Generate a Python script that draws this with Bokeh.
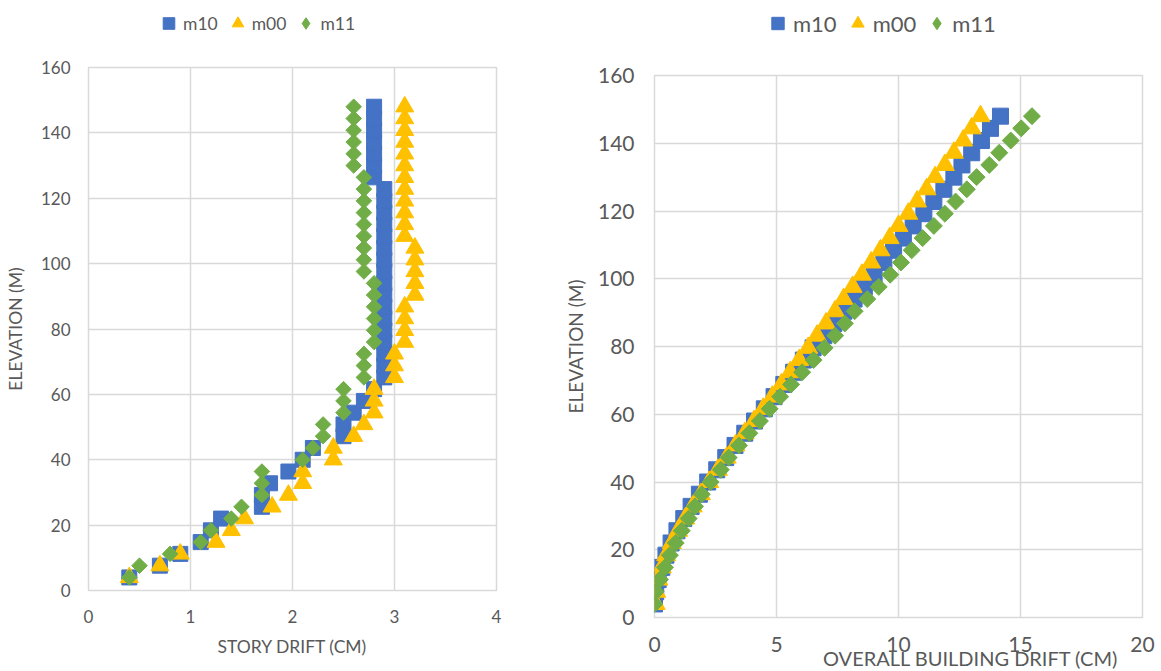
import math
from bokeh.plotting import figure
from bokeh.models import Range1d, Legend, LegendItem, FixedTicker, Title
from bokeh.layouts import row, column
from bokeh.embed import file_html
from bokeh.resources import INLINE

# ---------------- data ----------------
elevation = [4, 7.6, 11.2, 14.8, 18.4, 22, 25.6, 29.2, 32.8, 36.4,
             40, 43.6, 47.2, 50.8, 54.4, 58, 61.6, 65.2, 68.8, 72.4,
             76, 79.6, 83.2, 86.8, 90.4, 94, 97.6, 101.2, 104.8, 108.4,
             112, 115.6, 119.2, 122.8, 126.4, 130, 133.6, 137.2, 140.8, 144.4, 148]

story_m10 = [0.4, 0.7, 0.9, 1.1, 1.2, 1.3, 1.7, 1.7, 1.78, 1.96,
             2.1, 2.2, 2.5, 2.5, 2.6, 2.7, 2.8, 2.9, 2.9, 2.9,
             2.9, 2.9, 2.9, 2.9, 2.9, 2.9, 2.9, 2.9, 2.9, 2.9,
             2.9, 2.9, 2.9, 2.9, 2.8, 2.8, 2.8, 2.8, 2.8, 2.8, 2.8]
story_m00 = [0.4, 0.7, 0.9, 1.25, 1.4, 1.53, 1.8, 1.96, 2.1, 2.1,
             2.4, 2.4, 2.6, 2.7, 2.8, 2.8, 2.8, 3.0, 3.0, 3.0,
             3.1, 3.1, 3.1, 3.1, 3.2, 3.2, 3.2, 3.2, 3.2, 3.1,
             3.1, 3.1, 3.1, 3.1, 3.1, 3.1, 3.1, 3.1, 3.1, 3.1, 3.1]
story_m11 = [0.4, 0.5, 0.8, 1.1, 1.2, 1.4, 1.5, 1.7, 1.7, 1.7,
             2.1, 2.2, 2.3, 2.3, 2.5, 2.5, 2.5, 2.7, 2.7, 2.7,
             2.8, 2.8, 2.8, 2.8, 2.8, 2.8, 2.7, 2.7, 2.7, 2.7,
             2.7, 2.7, 2.7, 2.7, 2.7, 2.6, 2.6, 2.6, 2.6, 2.6, 2.6]

overall_m10 = [0.0, 0.05, 0.15, 0.3, 0.47, 0.68, 0.92, 1.2, 1.5, 1.84,
               2.18, 2.55, 2.92, 3.3, 3.7, 4.1, 4.5, 4.9, 5.3, 5.7,
               6.1, 6.5, 6.94, 7.35, 7.76, 8.18, 8.6, 9.0, 9.4, 9.8,
               10.2, 10.6, 11.04, 11.45, 11.86, 12.27, 12.6, 13.0, 13.4, 13.77, 14.18]
overall_m00 = [0.05, 0.07, 0.16, 0.3, 0.48, 0.71, 0.97, 1.26, 1.57, 1.9,
               2.24, 2.6, 2.96, 3.32, 3.7, 4.08, 4.45, 4.83, 5.2, 5.56,
               5.93, 6.3, 6.66, 7.03, 7.4, 7.75, 8.12, 8.5, 8.88, 9.26,
               9.64, 10.0, 10.4, 10.76, 11.15, 11.5, 11.9, 12.27, 12.65, 13.0, 13.36]
overall_m11 = [0.0, 0.05, 0.22, 0.43, 0.63, 0.87, 1.12, 1.4, 1.66, 1.94,
               2.3, 2.72, 3.04, 3.46, 3.89, 4.32, 4.72, 5.15, 5.6, 6.05,
               6.52, 6.97, 7.4, 7.8, 8.2, 8.72, 9.19, 9.66, 10.1, 10.54,
               10.99, 11.45, 11.9, 12.34, 12.8, 13.2, 13.72, 14.13, 14.6, 15.03, 15.47]

series_names = ["m10", "m00", "m11"]
x_ticks_left = [0, 1, 2, 3, 4]
x_ticks_right = [0, 5, 10, 15, 20]
y_ticks = [0, 20, 40, 60, 80, 100, 120, 140, 160]

C_M10 = "#4472C4"
C_M00 = "#FFC000"
C_M11 = "#70AD47"
TXT = "#595959"
GRID = "#D9D9D9"
FONT = "Lato"


def style(p, tick_fs, title_fs):
    p.xaxis.axis_line_color = None
    p.yaxis.axis_line_color = None
    for ax in (p.xaxis, p.yaxis):
        ax.major_tick_line_color = None
        ax.minor_tick_line_color = None
        ax.major_tick_out = 0
        ax.major_tick_in = 0
        ax.minor_tick_out = 0
        ax.minor_tick_in = 0
        ax.major_label_text_color = TXT
        ax.major_label_text_font = FONT
        ax.major_label_text_font_size = tick_fs
        ax.axis_label_text_color = TXT
        ax.axis_label_text_font = FONT
        ax.axis_label_text_font_size = title_fs
        ax.axis_label_text_font_style = "normal"
    p.xgrid.grid_line_color = GRID
    p.ygrid.grid_line_color = GRID
    p.xgrid.grid_line_width = 1.5
    p.ygrid.grid_line_width = 1.5
    p.outline_line_color = GRID
    p.outline_line_width = 1.5
    p.background_fill_color = "white"
    p.border_fill_color = "white"


def add_series(p, xs_list, sq, tri, dia):
    p.scatter(xs_list[0], elevation, marker="square", size=sq,
              fill_color=C_M10, line_color=C_M10)
    p.scatter(xs_list[1], elevation, marker="triangle", size=tri,
              fill_color=C_M00, line_color=C_M00)
    p.scatter(xs_list[2], elevation, marker="square", size=dia, angle=math.pi / 4,
              fill_color=C_M11, line_color=C_M11)


def legend_fig(width, height, fs, glyph, spacing, left_margin):
    lf = figure(width=width, height=height, output_backend="svg", toolbar_location=None,
                title=None, x_axis_type=None, y_axis_type=None,
                x_range=Range1d(0, 1), y_range=Range1d(0, 1),
                min_border=0, outline_line_color=None)
    lf.xgrid.visible = False
    lf.ygrid.visible = False
    lf.border_fill_color = "white"
    # off-range dummy points: only their legend swatches are visible
    r1 = lf.scatter([-5], [-5], marker="square", fill_color=C_M10, line_color=C_M10)
    r2 = lf.scatter([-5], [-5], marker="triangle", fill_color=C_M00, line_color=C_M00)
    r3 = lf.scatter([-5], [-5], marker="diamond", fill_color=C_M11, line_color=C_M11)
    legend = Legend(items=[LegendItem(label=series_names[0], renderers=[r1]),
                           LegendItem(label=series_names[1], renderers=[r2]),
                           LegendItem(label=series_names[2], renderers=[r3])],
                    orientation="horizontal", location="center_left")
    legend.border_line_alpha = 0
    legend.background_fill_alpha = 0
    legend.label_text_color = TXT
    legend.label_text_font = FONT
    legend.label_text_font_size = fs
    legend.glyph_width = glyph
    legend.glyph_height = glyph
    legend.label_standoff = 0
    legend.spacing = spacing
    legend.padding = 0
    legend.margin = left_margin
    lf.add_layout(legend)
    return lf


LEG_H = 45

# ---------------- left chart ----------------
p1 = figure(frame_width=408, frame_height=523, output_backend="svg", toolbar_location=None,
            title=None, x_range=Range1d(0, 4), y_range=Range1d(0, 160),
            min_border_left=88, min_border_right=64, min_border_top=67 - LEG_H,
            min_border_bottom=81)
p1.xaxis.ticker = FixedTicker(ticks=x_ticks_left)
p1.yaxis.ticker = FixedTicker(ticks=y_ticks)
p1.xaxis.axis_label = "STORY DRIFT (CM)"
p1.yaxis.axis_label = "ELEVATION (M)"
style(p1, "17px", "17.5px")
p1.xaxis.major_label_standoff = 19
p1.xaxis.axis_label_standoff = 10
p1.yaxis.major_label_standoff = 18
p1.yaxis.axis_label_standoff = 12
add_series(p1, [story_m10, story_m00, story_m11], 15, 18, 11)
leg1 = legend_fig(560, LEG_H, "17.5px", 29, 5, 66)

# ---------------- right chart ----------------
p2 = figure(frame_width=488, frame_height=542, output_backend="svg", toolbar_location=None,
            title=None, x_range=Range1d(0, 20), y_range=Range1d(0, 160),
            min_border_left=94, min_border_right=19, min_border_top=75 - LEG_H,
            min_border_bottom=54)
p2.xaxis.ticker = FixedTicker(ticks=x_ticks_right)
p2.yaxis.ticker = FixedTicker(ticks=y_ticks)
p2.yaxis.axis_label = "ELEVATION (M)"
style(p2, "21px", "19px")
p2.xaxis.major_label_standoff = 19
p2.yaxis.major_label_standoff = 20
p2.yaxis.axis_label_standoff = 8
x_title = Title(text="OVERALL BUILDING DRIFT (CM)", align="right", offset=24,
                vertical_align="top", standoff=-18, text_font=FONT,
                text_font_size="20px", text_font_style="normal", text_color=TXT)
p2.add_layout(x_title, "below")
add_series(p2, [overall_m10, overall_m00, overall_m11], 16, 19, 12)
leg2 = legend_fig(601, LEG_H, "22px", 31, 5, 108)

layout = row(column(leg1, p1, spacing=0), column(leg2, p2, spacing=0), spacing=0)
open("out.html", "w").write(file_html(layout, INLINE))
